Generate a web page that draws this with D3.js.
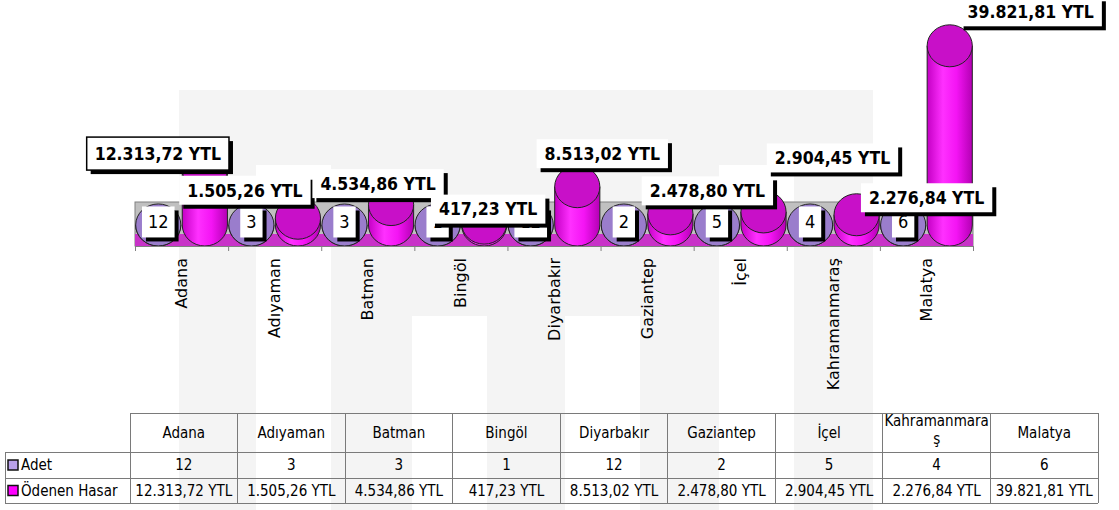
<!DOCTYPE html>
<html>
<head>
<meta charset="utf-8">
<script src="https://cdn.jsdelivr.net/npm/d3@7"></script>
<style>
  body { margin: 0; background: #fff; }
  svg { display: block; }
</style>
</head>
<body>
<div id="viz"></div>
<script>
const cities = ["Adana", "Adıyaman", "Batman", "Bingöl", "Diyarbakır", "Gaziantep", "İçel", "Kahramanmaraş", "Malatya"];
const seriesNames = ["Adet", "Ödenen Hasar"];
const adet = [12, 3, 3, 1, 12, 2, 5, 4, 6];
const hasar = [12313.72, 1505.26, 4534.86, 417.23, 8513.02, 2478.80, 2904.45, 2276.84, 39821.81];
const currency = "YTL";

// manual label offsets (box centre relative to cylinder top), like dragged labels in the original
const labelNudge = [[-47, -16], [-53, -28], [-13, -21], [4, -14], [25, -33], [37, -23], [69, -54], [70, -17], [81, -34]];

const tr = d3.formatLocale({decimal: ",", thousands: ".", grouping: [3], currency: ["", ""]});
const fmt = v => tr.format(",.2f")(v) + " " + currency;

const W = 1119, H = 510;
const colors = {adet: "#a084d4", adetTop: "#9a7dcc", adetLegend: "#b9a0ea", hasar: "#ff00ff", hasarTop: "#c810c8"};

const svg = d3.select("#viz").append("svg")
    .attr("width", W)
    .attr("height", H)
    .style("font-family", "'DejaVu Sans', Verdana, sans-serif");

const defs = svg.append("defs");
const grad = defs.append("linearGradient").attr("id", "hasarBody");
[["0%", "#c400c4"], ["35%", "#ff30ff"], ["65%", "#f414f4"], ["100%", "#b400b4"]]
    .forEach(([o, c]) => grad.append("stop").attr("offset", o).attr("stop-color", c));

// faint background logo
const bg = svg.append("g");
bg.append("rect").attr("x", 179).attr("y", 90).attr("width", 694).attr("height", H - 90).attr("fill", "#f4f4f4");
[[256, 165], [719, 165], [412, 316], [565, 316]].forEach(([x0, y0]) =>
    bg.append("rect").attr("x", x0).attr("y", y0).attr("width", 75).attr("height", H - y0).attr("fill", "#fff"));

// scales
const plot = {left: 135, right: 973, base: 225};
const x = d3.scaleBand().domain(cities).range([plot.left, plot.right]);
const xs = d3.scaleBand().domain(seriesNames).range([0, x.bandwidth()]);
const y = d3.scaleLinear().domain([0, 40000]).range([plot.base, 45]);
const rx = xs.bandwidth() * 0.485, ry = 21;

// wall + floor
svg.append("rect")
    .attr("x", plot.left).attr("y", plot.base - ry - 2)
    .attr("width", plot.right - plot.left).attr("height", 2 * ry + 2)
    .attr("fill", "#c0c0c0").attr("stroke", "#808080");
svg.append("rect")
    .attr("x", plot.left).attr("y", plot.base + 9)
    .attr("width", plot.right - plot.left).attr("height", ry - 9)
    .attr("fill", "#c833c8");

function cylinder(g, cx, yTop, body, top) {
    const yb = plot.base;
    g.append("path")
        .attr("d", `M${cx - rx},${yTop} L${cx - rx},${yb} A${rx},${ry} 0 0 0 ${cx + rx},${yb} L${cx + rx},${yTop} Z`)
        .attr("fill", body).attr("stroke", "#222").attr("stroke-width", 1);
    g.append("ellipse")
        .attr("cx", cx).attr("cy", yTop).attr("rx", rx).attr("ry", ry)
        .attr("fill", top).attr("stroke", "#222").attr("stroke-width", 1);
}

const bars = svg.append("g");
cities.forEach((c, i) => {
    cylinder(bars, x(c) + xs("Adet") + xs.bandwidth() / 2, y(adet[i]), colors.adet, colors.adetTop);
    cylinder(bars, x(c) + xs("Ödenen Hasar") + xs.bandwidth() / 2, y(hasar[i]), "url(#hasarBody)", colors.hasarTop);
});

// category axis, ticks on band edges
const xi = d3.scaleLinear().domain([0, cities.length]).range([plot.left, plot.right]);
const axisY = plot.base + ry;
svg.append("g")
    .attr("transform", `translate(0,${axisY})`)
    .call(d3.axisBottom(xi).tickValues(d3.range(cities.length + 1)).tickFormat("").tickSize(5).tickSizeOuter(0))
    .call(g => g.selectAll("path,line").attr("stroke", "#808080"));

svg.append("g").selectAll("text")
    .data(cities)
    .join("text")
    .attr("transform", d => `translate(${x(d) + x.bandwidth() / 2},${axisY + 12}) rotate(-90)`)
    .attr("text-anchor", "end")
    .attr("dy", "0.35em")
    .attr("font-size", 16)
    .attr("fill", "#000")
    .text(d => d);

// data labels
function labelBox(g, cx, cy, text, o) {
    const t = g.append("text")
        .attr("x", cx).attr("y", cy).attr("dy", "0.36em")
        .attr("text-anchor", "middle")
        .attr("font-family", "'DejaVu Sans Condensed', Tahoma, sans-serif")
        .attr("font-size", o.size).attr("font-weight", o.weight)
        .text(text);
    const w = t.node().getComputedTextLength() + 2 * o.pad, h = o.h;
    g.insert("rect", () => t.node())
        .attr("x", cx - w / 2 + 4).attr("y", cy - h / 2 + 4).attr("width", w).attr("height", h).attr("fill", "#000");
    g.insert("rect", () => t.node())
        .attr("x", cx - w / 2).attr("y", cy - h / 2).attr("width", w).attr("height", h)
        .attr("fill", "#fff").attr("stroke", o.border ? "#000" : "none").attr("stroke-width", 1.5);
}

const adetLabels = svg.append("g");
cities.forEach((c, i) => {
    labelBox(adetLabels, x(c) + xs("Adet") + xs.bandwidth() / 2, y(adet[i]) - 3, String(adet[i]),
        {size: 18, weight: "normal", pad: 6, h: 31});
});
const hasarLabels = svg.append("g");
cities.forEach((c, i) => {
    labelBox(hasarLabels, x(c) + xs("Ödenen Hasar") + xs.bandwidth() / 2 + labelNudge[i][0], y(hasar[i]) + labelNudge[i][1], fmt(hasar[i]),
        {size: 17.5, weight: "bold", pad: 8, h: i === 0 ? 33 : 29, border: i === 0});
});

// data table
const table = {left: 130, right: 1098, labelLeft: 5, rows: [413, 452, 478, 503]};
const tx = d3.scaleBand().domain(cities).range([table.left, table.right]);
const tg = svg.append("g")
    .attr("font-family", "'DejaVu Sans Condensed', Tahoma, sans-serif")
    .attr("font-size", 15);
const line = (x1, y1, x2, y2) => tg.append("line")
    .attr("x1", x1).attr("y1", y1).attr("x2", x2).attr("y2", y2)
    .attr("stroke", "#7a7a7a").attr("stroke-width", 1).attr("shape-rendering", "crispEdges");

line(table.left, table.rows[0], table.right, table.rows[0]);
table.rows.slice(1).forEach(r => line(table.labelLeft, r, table.right, r));
line(table.labelLeft, table.rows[1], table.labelLeft, table.rows[3]);
d3.range(cities.length + 1).forEach(k => {
    const xx = k < cities.length ? tx(cities[k]) : table.right;
    line(xx, table.rows[0], xx, table.rows[3]);
});

// header cells, wrapped by character when too wide
cities.forEach(c => {
    const cx = tx(c) + tx.bandwidth() / 2;
    const t = tg.append("text").attr("x", cx).attr("text-anchor", "middle").text(c);
    if (t.node().getComputedTextLength() > tx.bandwidth() - 2) {
        let cut = c.length - 1;
        t.text(c.slice(0, cut));
        while (t.node().getComputedTextLength() > tx.bandwidth() - 2 && cut > 1) { cut--; t.text(c.slice(0, cut)); }
        t.attr("y", 426).text(null);
        t.append("tspan").attr("x", cx).attr("y", 426).text(c.slice(0, cut));
        t.append("tspan").attr("x", cx).attr("y", 444).text(c.slice(cut));
    } else {
        t.attr("y", 438);
    }
});

const rowData = [
    {name: seriesNames[0], vals: adet.map(String), color: colors.adetLegend},
    {name: seriesNames[1], vals: hasar.map(fmt), color: colors.hasar}
];
rowData.forEach((r, j) => {
    const cy = (table.rows[j + 1] + table.rows[j + 2]) / 2;
    tg.append("rect").attr("x", 8).attr("y", cy - 5).attr("width", 10).attr("height", 10)
        .attr("fill", r.color).attr("stroke", "#111").attr("stroke-width", 1.5);
    tg.append("text").attr("x", 21).attr("y", cy).attr("dy", "0.36em").text(r.name);
    cities.forEach((c, i) => {
        tg.append("text")
            .attr("x", tx(c) + tx.bandwidth() / 2).attr("y", cy).attr("dy", "0.36em")
            .attr("text-anchor", "middle")
            .text(r.vals[i]);
    });
});
</script>
</body>
</html>
